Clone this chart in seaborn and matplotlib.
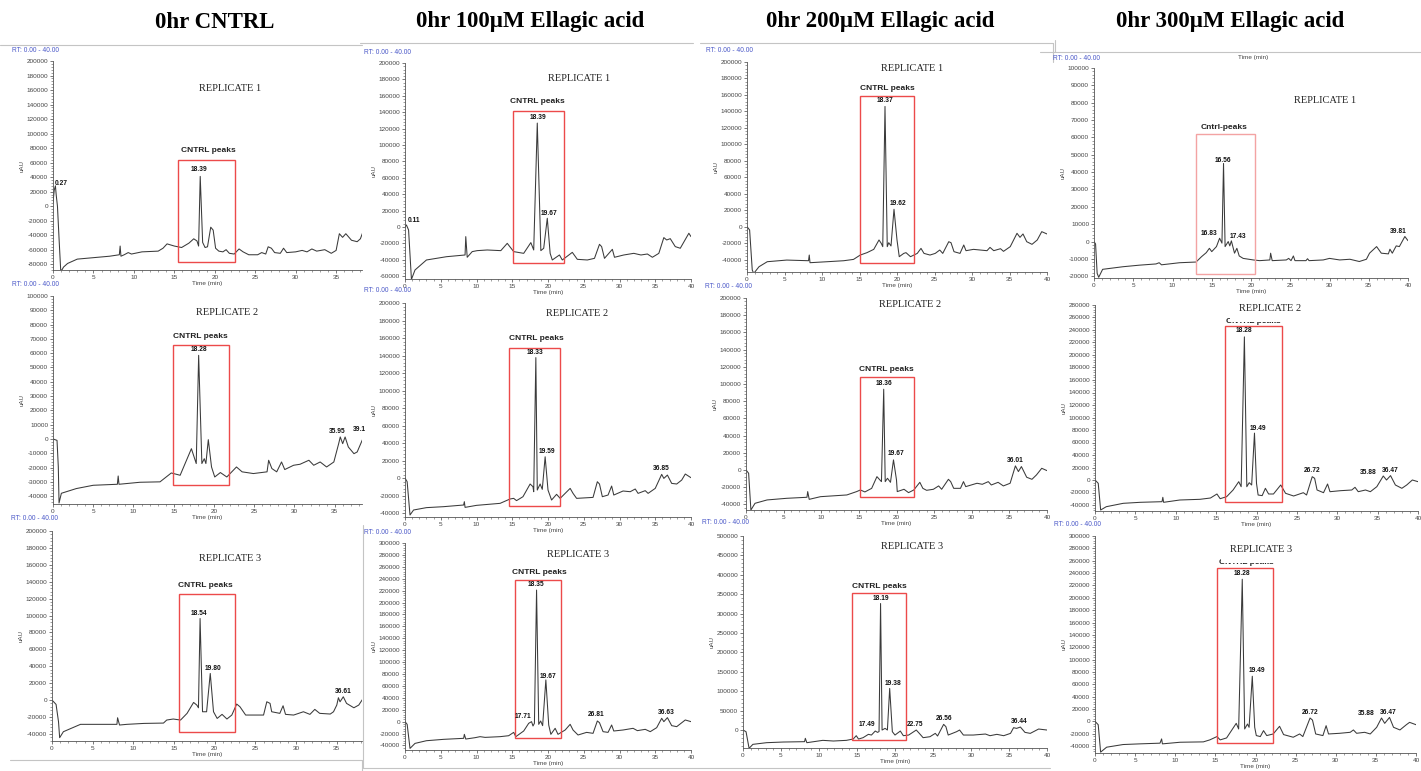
import matplotlib
matplotlib.use("Agg")
import matplotlib.pyplot as plt
from matplotlib.patches import Rectangle
from matplotlib.lines import Line2D
from matplotlib.ticker import MultipleLocator, AutoMinorLocator, FuncFormatter
import pandas as pd
import seaborn as sns

W, H = 1421, 771

col_titles = ["0hr CNTRL", "0hr 100\u00b5M Ellagic acid",
              "0hr 200\u00b5M Ellagic acid", "0hr 300\u00b5M Ellagic acid"]
col_title_x = [215, 530, 880, 1230]

# chromatogram traces, (time in min, signal in uAU)
cntrl_r1 = [(0, 5000), (0.15, 22000), (0.3, 28000), (0.4, 15000), (0.55, 0), (0.75, -45000), (0.95, -88000),
            (1.1, -88000), (1.3, -84000), (1.8, -79000), (3.0, -73000), (5.0, -71000), (7.0, -69000),
            (8.2, -67000), (8.3, -55000), (8.4, -69000), (8.8, -67000), (9.3, -64000), (9.7, -66000),
            (11.0, -63000), (13.0, -62000), (13.6, -58000), (14.1, -52000), (15.0, -55000), (15.9, -57000),
            (16.8, -51000), (17.4, -45000), (17.8, -48000), (18.0, -55000), (18.2, 41000), (18.5, -50000),
            (18.8, -57000), (19.1, -56000), (19.5, -29000), (19.8, -33000), (20.1, -58000), (20.5, -62000),
            (21.0, -63000), (21.4, -60000), (21.8, -65000), (22.4, -66000), (23.0, -59000), (23.5, -63000),
            (24.2, -67000), (25.3, -67000), (25.8, -64000), (26.3, -66000), (26.6, -56000), (27.0, -58000),
            (27.4, -64000), (28.1, -65000), (28.5, -58000), (28.9, -64000), (30.0, -63000), (30.8, -61000),
            (31.4, -63000), (32.0, -59000), (32.6, -62000), (33.6, -60000), (34.4, -65000), (35.0, -61000),
            (35.4, -38000), (35.8, -43000), (36.2, -38000), (36.9, -47000), (37.6, -49000), (38.0, -45000),
            (38.4, -33000)]
cntrl_r2 = [(0, 0), (0.5, -1000), (0.66, -19600), (0.75, -44800), (1.04, -38000), (2.9, -34700), (5.0, -32400),
            (8.0, -31700), (8.1, -25900), (8.2, -31700), (10.8, -30300), (13.3, -30000), (14.7, -23800),
            (15.8, -25400), (17.2, -6800), (17.8, -17200), (18.1, 58500), (18.5, -17200), (18.8, -13800),
            (19.0, -17200), (19.3, -500), (19.7, -19600), (20.1, -26600), (20.8, -23500), (21.6, -26600),
            (22.8, -19600), (23.5, -23000), (24.9, -24200), (26.6, -23000), (26.8, -14900), (27.2, -20700),
            (27.8, -23000), (28.4, -16100), (28.8, -21400), (29.9, -18400), (30.7, -17700), (31.8, -14900),
            (32.4, -18400), (33.2, -16100), (34.0, -19600), (34.9, -16100), (35.5, -3300), (35.7, 1400),
            (36.0, -3300), (36.3, 1400), (36.7, -5600), (37.4, -10300), (37.8, -9100), (38.6, 1400)]
cntrl_r3 = [(0, 0), (0.5, -5100), (0.8, -25600), (0.94, -44500), (1.4, -37400), (3.5, -28700), (7.98, -28700),
            (8.06, -20900), (8.3, -29500), (9.2, -28700), (11.3, -27600), (13.7, -27200), (14.1, -23600),
            (14.9, -22400), (15.8, -23600), (16.6, -15700), (17.4, -2800), (17.8, -5900), (18.0, -9100),
            (18.2, 96500), (18.5, -13800), (19.0, -13800), (19.45, 31500), (19.85, -13800), (20.3, -21700),
            (20.9, -16900), (21.5, -22400), (22.1, -17700), (22.7, -4700), (23.1, -7900), (23.8, -17700),
            (26.0, -17700), (26.4, -2000), (26.8, -3900), (27.0, -13800), (28.0, -15700), (28.4, -6700),
            (28.7, -16900), (29.7, -17700), (30.9, -13800), (31.7, -16900), (32.3, -11000), (32.9, -15700),
            (34.2, -16500), (34.6, -13800), (35.0, -5900), (35.2, 2800), (35.4, -2000), (35.8, 3900),
            (36.2, -3900), (37.1, -9100), (37.7, -5900), (38.3, 2800)]
ea100_r1 = [(0, 0), (0.2, 2400), (0.5, -3700), (0.9, -64000), (1.4, -52500), (3.0, -40300), (5.8, -36300),
            (8.4, -34200), (8.5, -11800), (8.7, -37000), (9.4, -30100), (10.1, -28900), (11.5, -28100),
            (13.4, -28900), (14.3, -20000), (15.2, -30100), (16.6, -32200), (17.6, -19100), (18.0, -28100),
            (18.5, 126700), (19.0, -28900), (19.4, -26000), (19.9, 10600), (20.3, -32200), (20.6, -40300),
            (21.6, -34200), (22.0, -40300), (23.4, -31000), (24.1, -39500), (25.5, -40300), (26.5, -38300),
            (27.2, -21200), (27.5, -24000), (27.9, -38300), (29.0, -27300), (29.3, -37000), (30.6, -34200),
            (32.0, -32200), (33.0, -34200), (33.9, -33000), (34.6, -37000), (35.5, -32200), (36.2, -13000),
            (36.6, -15900), (37.1, -14300), (37.8, -24000), (38.5, -26000), (39.7, -7700), (40.0, -11800)]
ea100_r2 = [(0, 0), (0.3, -4200), (0.7, -42200), (1.2, -36500), (3.0, -33800), (5.4, -32700), (8.2, -30800),
            (8.3, -27000), (8.4, -33500), (10.0, -31200), (13.3, -28900), (14.7, -23900), (15.2, -23200),
            (15.6, -25800), (16.5, -21300), (17.5, -6800), (17.9, -9900), (18.0, -15600), (18.3, 137600),
            (18.5, -13700), (18.9, -6800), (19.2, -12900), (19.6, 24300), (20.0, -13700), (20.5, -25100),
            (21.2, -18600), (21.7, -23200), (23.1, -11800), (23.5, -17500), (24.0, -23200), (26.3, -22100),
            (26.9, -4200), (27.2, -6800), (27.6, -21300), (28.4, -19400), (28.9, -9100), (29.2, -19400),
            (30.5, -14800), (31.5, -15600), (32.2, -12500), (32.6, -17500), (33.6, -14400), (34.0, -17500),
            (35.0, -11800), (35.9, 4200), (36.2, -400), (36.7, 3400), (37.3, -6100), (38.0, -6800),
            (38.7, -2300), (39.2, 4600), (40.0, 400)]
ea100_r3 = [(0, 0), (0.3, -4500), (0.7, -44900), (1.4, -36500), (3.0, -32000), (5.4, -29700), (8.2, -28000),
            (8.3, -21300), (8.5, -29200), (9.8, -26900), (10.5, -25200), (11.2, -26400), (13.3, -25200),
            (14.5, -23600), (15.2, -18000), (15.5, -25200), (16.6, -15700), (17.3, -2800), (17.7, 0),
            (17.9, -7300), (18.1, -2800), (18.4, 221000), (18.7, -4500), (18.97, 1100), (19.25, -6700),
            (19.7, 70100), (20.1, -5600), (20.4, -21300), (21.0, -11200), (21.4, -21300), (22.4, -14000),
            (23.1, -4500), (23.5, -14000), (24.2, -22400), (25.4, -18000), (26.3, -19600), (26.9, 1100),
            (27.2, -1700), (27.7, -16800), (28.4, -18000), (28.9, -5600), (29.2, -15700), (30.5, -14000),
            (31.9, -11200), (32.5, -15100), (33.6, -12900), (34.3, -16800), (35.2, -10100), (35.9, 5600),
            (36.2, 0), (36.7, 6700), (37.3, -6700), (38.0, -8400), (39.2, 2800), (40.0, 0)]
ea200_r1 = [(0, 0), (0.35, -4100), (0.7, -52700), (0.9, -56800), (1.6, -48700), (2.7, -42600), (5.3, -40600),
            (8.2, -41400), (8.3, -34500), (8.4, -43800), (10.7, -42600), (12.9, -41400), (14.2, -39800),
            (15.1, -34500), (16.0, -31600), (16.9, -27600), (17.6, -16200), (17.9, -20300), (18.1, -24300),
            (18.4, 146000), (18.7, -24300), (18.9, -19500), (19.2, -23500), (19.6, 21100), (20.0, -16200),
            (20.3, -36500), (20.9, -32500), (21.2, -31600), (21.8, -36500), (22.7, -32500), (23.2, -26400),
            (23.6, -32500), (24.4, -34500), (25.1, -32500), (25.7, -28400), (26.1, -32500), (26.9, -18300),
            (27.2, -19500), (27.6, -30400), (28.4, -32500), (28.9, -22300), (29.2, -29200), (30.2, -27600),
            (31.1, -28400), (32.0, -29200), (32.4, -25200), (32.9, -29200), (33.8, -26800), (34.2, -30000),
            (35.1, -24300), (36.0, -8100), (36.4, -13000), (36.8, -8900), (37.3, -18300), (38.0, -21500),
            (38.7, -16200), (39.3, -6100), (40.0, -8900)]
ea200_r2 = [(0, 0), (0.35, -3900), (0.65, -46600), (1.2, -38800), (2.8, -34900), (5.4, -33000), (8.1, -31800),
            (8.2, -25200), (8.4, -34200), (9.9, -31100), (13.4, -29100), (14.7, -25200), (15.2, -23300),
            (15.8, -25600), (16.7, -21400), (17.4, -7800), (17.8, -11700), (18.0, -13600), (18.3, 93900),
            (18.5, -13600), (18.8, -9700), (19.2, -14400), (19.6, 11700), (20.0, -11700), (20.1, -25200),
            (21.0, -22500), (21.6, -26400), (22.3, -23300), (23.1, -14400), (23.5, -21400), (24.0, -23700),
            (24.9, -22500), (25.6, -18600), (26.0, -22500), (26.9, -10900), (27.2, -13600), (27.6, -21400),
            (28.5, -21400), (28.9, -13600), (29.2, -19400), (30.7, -15500), (31.4, -16700), (32.2, -13600),
            (32.6, -17500), (33.5, -14400), (34.2, -18600), (35.1, -15500), (35.8, 4700), (36.2, -1900),
            (36.6, 3900), (37.3, -8500), (38.0, -10900), (38.6, -5800), (39.3, 1900), (40.0, -800)]
ea200_r3 = [(0, 0), (0.4, -4300), (0.8, -47200), (1.3, -36900), (3.1, -32600), (5.3, -30900), (8.1, -30000),
            (8.2, -21400), (8.4, -32600), (10.5, -26600), (11.9, -28300), (13.6, -26600), (14.5, -23200),
            (14.9, -14600), (15.2, -23200), (15.8, -19700), (16.5, -11100), (16.9, -12900), (17.4, -2600),
            (17.7, -6000), (17.9, -4000), (18.1, 326000), (18.3, 0), (18.7, 4300), (19.0, 0), (19.3, 107200),
            (19.65, -4300), (20.0, -12900), (20.7, -2600), (21.1, -14600), (21.8, -12900), (22.8, 0),
            (23.2, -8600), (23.7, -19700), (24.6, -17200), (25.3, -8600), (25.6, -15400), (26.4, 14600),
            (26.7, 8600), (27.0, -12900), (28.1, -4300), (28.5, 0), (29.0, -12900), (30.3, -12900),
            (31.9, -10300), (32.5, -14600), (33.4, -11100), (34.3, -14600), (35.2, -8600), (35.6, 6000),
            (36.0, 4300), (36.5, 7700), (37.1, -6000), (37.8, -8600), (38.9, 2600), (40.0, 0)]
ea300_r1 = [(0, 0), (0.2, -1400), (0.4, -18300), (0.6, -20600), (1.1, -16000), (3.7, -14500), (5.8, -13600),
            (7.9, -12900), (8.3, -12200), (8.6, -13400), (10.9, -12200), (13.0, -11800), (13.7, -8700),
            (14.3, -6400), (14.7, -3900), (15.0, -5800), (15.6, -2900), (16.0, 1900), (16.3, -900),
            (16.5, 45000), (16.7, -2900), (17.1, 0), (17.3, -2500), (17.5, 400), (17.9, -6700), (18.2, -3900),
            (18.5, -8300), (19.0, -9700), (20.3, -10600), (21.1, -11000), (22.4, -10600), (22.5, -6700),
            (22.7, -11000), (24.5, -10600), (24.8, -9700), (25.1, -11000), (25.4, -8300), (25.6, -11000),
            (27.0, -11000), (27.2, -9900), (27.4, -11000), (29.2, -10600), (30.0, -9700), (31.3, -10600),
            (32.6, -10200), (33.8, -11500), (34.7, -10200), (35.1, -6700), (36.0, -2900), (36.6, -6700),
            (37.5, -7100), (37.7, -4400), (38.0, -6700), (38.5, -2500), (38.9, -2900), (39.6, 2900), (40.0, 500)]
ea300_r2 = [(0, 0), (0.4, -5300), (0.7, -48000), (1.4, -42700), (3.5, -37300), (5.6, -35700), (8.3, -34700),
            (8.4, -27700), (8.5, -35700), (10.5, -32000), (13.0, -30900), (14.3, -28800), (15.1, -22400),
            (15.5, -29900), (16.3, -26700), (17.1, -16000), (17.8, -2700), (18.1, -10700), (18.5, 229000),
            (18.8, -10700), (19.1, -4300), (19.4, -8000), (19.75, 75000), (20.0, -5300), (20.2, -24000),
            (20.7, -25000), (21.1, -13300), (21.5, -22400), (22.1, -22400), (23.0, -8000), (23.6, -21300),
            (24.6, -25600), (25.8, -20300), (26.2, -24000), (26.9, 5300), (27.2, 2700), (27.5, -16000),
            (28.3, -20300), (28.8, -6400), (29.1, -18700), (30.4, -17100), (31.8, -16000), (32.2, -11700),
            (32.6, -18700), (33.5, -16000), (34.1, -18700), (34.9, -10700), (35.7, 6400), (36.1, 0),
            (36.6, 7000), (37.2, -8000), (38.0, -13300), (38.6, -8000), (39.3, 0), (40.0, -2700)]
ea300_r3 = [(0, 0), (0.4, -5400), (0.7, -49800), (1.45, -41800), (3.5, -37500), (5.6, -36400), (8.1, -35300),
            (8.3, -28400), (8.4, -36400), (10.6, -33800), (13.5, -33200), (14.3, -30000), (15.2, -24600),
            (15.6, -30000), (16.4, -26800), (17.0, -15000), (17.6, -3200), (17.9, -12300), (18.35, 230000),
            (18.65, -12300), (19.0, -4300), (19.2, -9600), (19.6, 73000), (19.9, -9600), (20.1, -23000),
            (20.6, -24600), (21.0, -15000), (21.4, -23000), (22.2, -20400), (23.0, -8000), (23.5, -21400),
            (24.7, -25700), (25.5, -20400), (25.9, -24600), (26.8, 5400), (27.1, 2100), (27.5, -20400),
            (28.4, -23000), (28.8, -7000), (29.1, -20400), (30.5, -19300), (31.8, -17700), (32.2, -13900),
            (32.6, -19300), (33.6, -17700), (34.3, -20400), (35.1, -9600), (35.7, 5400), (36.1, -3200),
            (36.7, 6400), (37.2, -9600), (38.0, -13900), (38.8, -5400), (39.2, -1600), (40.0, -5400)]

# retention time labels: (text, time, signal)
cntrl_r1_peaks = [("0.27", 1.0, 26000), ("18.39", 18.1, 45000)]
cntrl_r2_peaks = [("18.28", 18.1, 60000), ("35.95", 35.3, 2500), ("39.1", 38.1, 4500)]
cntrl_r3_peaks = [("18.54", 18.1, 98000), ("19.80", 19.8, 33500), ("36.61", 35.8, 6000)]
ea100_r1_peaks = [("0.11", 1.3, 3300), ("18.39", 18.6, 129000), ("19.67", 20.1, 12600)]
ea100_r2_peaks = [("18.33", 18.2, 140000), ("19.59", 19.9, 26000), ("36.85", 35.9, 7000)]
ea100_r3_peaks = [("17.71", 16.5, 3400), ("18.35", 18.3, 225000), ("19.67", 20.0, 70000),
                  ("26.81", 26.7, 6200), ("36.63", 36.5, 9000)]
ea200_r1_peaks = [("18.37", 18.4, 149000), ("19.62", 20.1, 24000)]
ea200_r2_peaks = [("18.36", 18.3, 96000), ("19.67", 20.0, 14800), ("36.01", 35.8, 7000)]
ea200_r3_peaks = [("17.49", 16.3, 4300), ("18.19", 18.1, 330000), ("19.38", 19.8, 111500),
                  ("22.75", 22.6, 4300), ("26.56", 26.4, 19700), ("36.44", 36.3, 12900)]
ea300_r1_peaks = [("16.83", 14.7, 2500), ("16.56", 16.4, 44500), ("17.43", 18.3, 900), ("39.81", 38.7, 3900)]
ea300_r2_peaks = [("18.28", 18.5, 233000), ("19.49", 20.2, 76800), ("26.72", 26.9, 10000),
                  ("35.88", 33.9, 6400), ("36.47", 36.6, 9000)]
ea300_r3_peaks = [("18.28", 18.35, 233000), ("19.49", 20.2, 77000), ("26.72", 26.8, 8600),
                  ("35.88", 33.8, 6400), ("36.47", 36.5, 8000)]

# highlighted window: (t0, t1, signal low, signal high)
cntrl_boxes = [(15.5, 22.5, -77000, 64000), (14.9, 21.9, -32400, 66000), (15.55, 22.5, -37400, 126000)]
ea100_boxes = [(15.1, 22.2, -43600, 141700), (14.5, 21.7, -31600, 149000), (15.4, 21.8, -28000, 237800)]
ea200_boxes = [(15.1, 22.2, -44600, 159000), (15.2, 22.3, -31000, 107600), (14.4, 21.5, -25700, 353000)]
ea300_boxes = [(13.0, 20.55, -18900, 61700), (16.1, 23.2, -35700, 247000), (15.2, 22.2, -34800, 249000)]

# group caption ("CNTRL peaks") and replicate caption positions: (time, signal)
cntrl_capt = [(19.2, 77000), (18.3, 71800), (18.9, 136000)]
ea100_capt = [(18.5, 153000), (18.4, 159000), (18.8, 251000)]
ea200_capt = [(18.7, 168000), (18.7, 116500), (18.0, 368800)]
ea300_capt = [(16.6, 65500), (19.6, 254000), (18.9, 256500)]
cntrl_rep = [(21.9, 162000), (21.6, 88300), (21.9, 167000)]
ea100_rep = [(24.3, 181700), (24.0, 188000), (24.2, 280000)]
ea200_rep = [(22.0, 192700), (21.8, 192000), (22.2, 474000)]
ea300_rep = [(29.4, 81000), (21.7, 274700), (20.7, 278000)]

# axis ranges: (xmax, ymin, ymax, y tick step)
cntrl_axes = [(38.2, -88000, 200000, 20000), (38.4, -45500, 100000, 10000), (38.1, -48400, 200000, 20000)]
ea100_axes = [(40, -63500, 200000, 20000), (40, -44500, 200000, 20000), (40, -47600, 300000, 20000)]
ea200_axes = [(40, -55100, 200000, 20000), (40, -46600, 200000, 20000), (40, -46300, 500000, 50000)]
ea300_axes = [(40, -21000, 100000, 10000), (40, -49600, 280000, 20000), (40, -51200, 300000, 20000)]

# panel placement in pixels: (left, right, top, bottom, RT label y)
cntrl_rect = [(53, 362, 61, 270, 50), (53, 362, 296, 504, 284), (52, 362, 531, 741, 519)]
ea100_rect = [(405, 691, 63, 279, 52), (405, 691, 303, 517, 291), (405, 691, 543, 750, 532)]
ea200_rect = [(747, 1047, 62, 272, 51), (746, 1047, 298, 510, 287), (743, 1047, 536, 748, 523)]
ea300_rect = [(1094, 1408, 68, 278, 59), (1095, 1418, 305, 511, None), (1095, 1416, 536, 753, 524)]

columns = [
    ([cntrl_r1, cntrl_r2, cntrl_r3], [cntrl_r1_peaks, cntrl_r2_peaks, cntrl_r3_peaks],
     cntrl_boxes, cntrl_capt, cntrl_rep, cntrl_axes, cntrl_rect),
    ([ea100_r1, ea100_r2, ea100_r3], [ea100_r1_peaks, ea100_r2_peaks, ea100_r3_peaks],
     ea100_boxes, ea100_capt, ea100_rep, ea100_axes, ea100_rect),
    ([ea200_r1, ea200_r2, ea200_r3], [ea200_r1_peaks, ea200_r2_peaks, ea200_r3_peaks],
     ea200_boxes, ea200_capt, ea200_rep, ea200_axes, ea200_rect),
    ([ea300_r1, ea300_r2, ea300_r3], [ea300_r1_peaks, ea300_r2_peaks, ea300_r3_peaks],
     ea300_boxes, ea300_capt, ea300_rep, ea300_axes, ea300_rect),
]

sns.set_style("ticks")
plt.rcParams["font.family"] = ["Liberation Sans", "DejaVu Sans"]
SERIF = ["Liberation Serif", "DejaVu Serif"]

fig = plt.figure(figsize=(W / 100, H / 100), dpi=100)

for ci, (traces, peaks, boxes, capts, reps, ranges, rects) in enumerate(columns):
    for ri in range(3):
        l, r, top, bot, rt_y = rects[ri]
        xmax, ymin, ymax, ystep = ranges[ri]
        ax = fig.add_axes([l / W, 1 - bot / H, (r - l) / W, (bot - top) / H])
        ax.patch.set_alpha(0)
        df = pd.DataFrame(traces[ri], columns=["time", "uAU"])
        sns.lineplot(data=df, x="time", y="uAU", ax=ax, sort=False, estimator=None,
                     color="#3a3a3a", linewidth=0.75)
        ax.set_xlim(0, xmax)
        ax.set_ylim(ymin, ymax)
        ax.xaxis.set_major_locator(MultipleLocator(5))
        ax.xaxis.set_minor_locator(MultipleLocator(1))
        ax.yaxis.set_major_locator(MultipleLocator(ystep))
        ax.yaxis.set_minor_locator(AutoMinorLocator(5))
        ax.yaxis.set_major_formatter(FuncFormatter(lambda v, _: f"{int(round(v))}"))
        ax.tick_params(which="major", labelsize=4.6, colors="#444444", length=2.5, width=0.5, pad=1)
        ax.tick_params(which="minor", length=1.4, width=0.4, colors="#555555")
        for s in ["top", "right"]:
            ax.spines[s].set_visible(False)
        for s in ["left", "bottom"]:
            ax.spines[s].set_linewidth(0.6)
            ax.spines[s].set_color("#555555")
        ax.set_xlabel("Time (min)", fontsize=4.6, labelpad=1, color="#444444")
        ax.set_ylabel("uAU", fontsize=4.4, labelpad=1, color="#444444")

        t0, t1, v0, v1 = boxes[ri]
        box_col = "#f3a3a3" if (ci == 3 and ri == 0) else "#ec4a4a"
        ax.add_patch(Rectangle((t0, v0), t1 - t0, v1 - v0, fill=False, ec=box_col, lw=1.0, zorder=3))

        cap = "Cntrl-peaks" if (ci == 3 and ri == 0) else "CNTRL peaks"
        ax.text(capts[ri][0], capts[ri][1], cap, fontsize=6, fontweight="bold", ha="center",
                va="center", color="#222222", zorder=2)
        rep_kw = {}
        if ci == 3 and ri > 0:
            # replicate caption sits on top of the group caption and hides its upper half
            rep_kw = dict(bbox=dict(boxstyle="square,pad=0.9", fc="white", ec="none"))
        ax.text(reps[ri][0], reps[ri][1], f"REPLICATE {ri + 1}", family=SERIF, fontsize=7.5,
                ha="center", va="center", color="#222222", zorder=4, **rep_kw)

        for txt, pt, pv in peaks[ri]:
            ax.text(pt, pv, txt, fontsize=4.8, fontweight="bold", ha="center", va="bottom",
                    color="#111111", zorder=5)

        if rt_y is not None:
            fig.text((l - 41) / W, 1 - rt_y / H, "RT: 0.00 - 40.00", fontsize=4.8,
                     color="#4a58c8", va="center", ha="left")

for title, tx in zip(col_titles, col_title_x):
    fig.text(tx / W, 1 - 22 / H, title, family=SERIF, fontsize=16.5, fontweight="bold",
             ha="center", va="center", color="black")

# stray label from the pasted screenshot above the last column
fig.text(1253 / W, 1 - 57 / H, "Time (min)", fontsize=4.6, color="#444444", ha="center", va="center")

# screenshot border lines
frames = [((0, 362), (45, 45)), ((360, 693), (43, 43)), ((700, 1053), (43, 43)), ((1053, 1053), (43, 62)),
          ((1055, 1421), (52, 52)), ((1040, 1055), (52, 52)), ((1055, 1055), (40, 52)),
          ((10, 362), (760, 760)), ((362, 362), (760, 771)), ((363, 363), (525, 768)),
          ((363, 700), (768, 768)), ((700, 1050), (768, 768))]
for xs, ys in frames:
    fig.add_artist(Line2D([x / W for x in xs], [1 - y / H for y in ys], color="#c4c4c4", lw=0.8))

fig.savefig("out.png", dpi=100)
